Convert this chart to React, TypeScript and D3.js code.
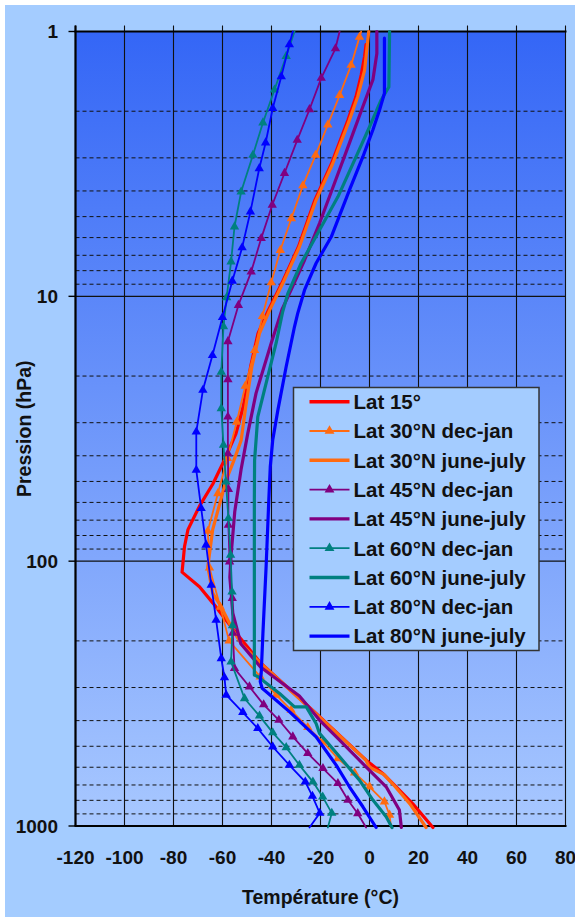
import React from "react";
import * as d3 from "d3";

// ---- axis ticks ----
const tempTicks = [-120, -100, -80, -60, -40, -20, 0, 20, 40, 60, 80];
const pressureMajor = [1, 10, 100, 1000];
const pressureLabels = ["1", "10", "100", "1000"];

// ---- series data: [temperature °C, pressure hPa] ----
const lat15: [number, number][] = [
  [-1.4, 1.12], [-2, 1.24], [-3.4, 1.46], [-5.5, 1.76], [-8.8, 2.16], [-15.5, 3.15], [-22.3, 4.33],
  [-29, 6.5], [-35.8, 8.93], [-41.3, 11.3], [-45.5, 13.8], [-48.5, 18.4], [-51.5, 26], [-54.5, 33],
  [-59.2, 41.5], [-63.9, 51], [-69.4, 62], [-74.1, 76], [-75.5, 88], [-76.5, 110], [-69.4, 125],
  [-63.9, 144], [-58.5, 167], [-54.4, 187], [-49, 215], [-44.9, 240], [-21.8, 376], [-1.4, 564],
  [5.4, 633], [10.9, 711], [17.7, 825], [25.9, 1013],
];
const lat30Dec: [number, number][] = [
  [-3.4, 1], [-4.1, 1.05], [-7.5, 1.34], [-12.2, 1.74], [-17, 2.25], [-22, 2.93], [-27.2, 3.82],
  [-31.9, 5.08], [-36.4, 6.7], [-40.1, 8.87], [-43.7, 11.9], [-46.9, 16], [-50.7, 21.8], [-54.2, 29.8],
  [-58, 40.9], [-61.9, 55.5], [-66, 77], [-65.3, 106], [-60.9, 149], [-57.3, 200], [-44.6, 273],
  [-38.1, 320], [-32, 365], [-25.2, 424], [-19, 481], [-12.9, 556], [-6.1, 630], [0, 711],
  [6.1, 810], [8.2, 909], [8.8, 1013],
];
const lat30Jun: [number, number][] = [
  [-0.3, 1], [-0.7, 1.08], [-2, 1.4], [-4.8, 1.76], [-8.2, 2.16], [-15, 3.15], [-21.8, 4.33],
  [-28.6, 6.5], [-35.4, 8.93], [-40.8, 11.3], [-44.9, 13.8], [-48, 18.4], [-50.5, 26], [-52.4, 35],
  [-55.5, 42], [-58.5, 49.4], [-64, 76], [-66, 105], [-64, 132], [-60.5, 149], [-55.8, 182],
  [-52, 207], [-45, 240], [-22, 376], [-1.5, 564], [0, 600], [6, 640], [10.5, 711], [16.5, 825],
  [23.1, 1013],
];
const lat45Dec: [number, number][] = [
  [-12.2, 1], [-13.9, 1.16], [-19.7, 1.5], [-24.5, 1.97], [-29.5, 2.57], [-34.7, 3.43], [-39.7, 4.52],
  [-44.2, 6.04], [-48.3, 8.08], [-53.5, 10.8], [-57.8, 14.8], [-57.8, 20.6], [-57.8, 28.5],
  [-57.8, 39.2], [-57.6, 53.5], [-57.6, 73.1], [-57.1, 100.5], [-56, 138], [-55.8, 187],
  [-55.1, 254], [-49, 298], [-43.2, 348], [-37, 398], [-31.3, 460], [-25.2, 532], [-19, 606],
  [-12.9, 690], [-8.8, 798], [-4.8, 897], [-1.4, 1013],
];
const lat45Jun: [number, number][] = [
  [3, 1], [3, 1.21], [1.4, 1.52], [-2.7, 1.92], [-8.2, 2.64], [-14.3, 3.74], [-20.4, 5.3],
  [-26.5, 7.29], [-32, 9.46], [-35.7, 11.2], [-40.1, 15], [-46.3, 23.2], [-49.7, 33], [-52.4, 45],
  [-55, 65], [-56.5, 95], [-57, 115], [-55.8, 157], [-52.5, 205], [-44.5, 251], [-28.6, 323],
  [-20.4, 398], [-12.2, 474], [-1.4, 598], [6.8, 711], [12.2, 870], [13, 1013],
];
const lat60Dec: [number, number][] = [
  [-30.6, 1], [-34, 1.24], [-38.8, 1.66], [-43.5, 2.21], [-47.6, 2.93], [-52.4, 4.03], [-55.1, 5.46],
  [-56.5, 7.4], [-58.3, 10.1], [-59.6, 13], [-60.5, 19.3], [-60.5, 26.5], [-59.6, 36.4],
  [-58.6, 50.1], [-57.6, 68.9], [-56.7, 94.8], [-56.1, 130.5], [-55.9, 175], [-56.5, 240],
  [-51, 330], [-44.9, 384], [-39.5, 444], [-34, 505], [-28.6, 589], [-23.1, 681], [-19.1, 776],
  [-15.4, 894], [-17, 1013],
];
const lat60Jun: [number, number][] = [
  [8.2, 1], [7.9, 1.62], [4.8, 1.81], [0, 2.29], [-6.1, 3.06], [-12.9, 4.21], [-20.4, 5.62],
  [-27.9, 7.5], [-33.3, 9.74], [-35.5, 11.5], [-38.1, 15], [-42.9, 22.6], [-45.6, 28.5],
  [-46.9, 41.5], [-47, 58.8], [-47, 269], [-45.5, 273], [-36.7, 316], [-30.6, 355], [-25.8, 355],
  [-21.8, 410], [-20.4, 447], [-12.2, 548], [-4.1, 671], [1.4, 798], [6.8, 923], [9.2, 1013],
];
const lat80Dec: [number, number][] = [
  [-31.3, 1], [-32.7, 1.12], [-36, 1.48], [-39.5, 1.95], [-42.4, 2.63], [-45, 3.29], [-48.6, 4.79],
  [-52, 6.55], [-56, 8.75], [-60, 12], [-64.1, 16.7], [-68, 22.6], [-70.7, 32.5], [-70.7, 45.3],
  [-68.7, 63.2], [-66.7, 86.9], [-64.6, 123], [-62.6, 167], [-60.5, 233], [-59.2, 275],
  [-58.5, 320], [-51.7, 372], [-45.6, 428], [-39.5, 502], [-32.7, 589], [-26.2, 681],
  [-23.3, 771], [-20.3, 894], [-24.5, 1013],
];
const lat80Jun: [number, number][] = [
  [6.1, 1.06], [6.1, 1.71], [4.1, 1.98], [1.4, 2.35], [-2.7, 2.97], [-8.2, 3.97], [-15.6, 5.96],
  [-21.8, 7.5], [-26.5, 9.46], [-29.3, 11.6], [-30.6, 13], [-34, 18.4], [-37.4, 26.9],
  [-39.5, 34.9], [-40.5, 44], [-41.1, 58.8], [-42.2, 105], [-43.5, 187], [-44.2, 265],
  [-44.6, 285], [-43.8, 302], [-32.7, 370], [-21.8, 461], [-13.6, 589], [-8.2, 711],
  [-2.7, 846], [2.7, 1013],
];

const seriesNames = [
  "Lat 15°",
  "Lat 30°N dec-jan",
  "Lat 30°N june-july",
  "Lat 45°N dec-jan",
  "Lat 45°N june-july",
  "Lat 60°N dec-jan",
  "Lat 60°N june-july",
  "Lat 80°N dec-jan",
  "Lat 80°N june-july",
];
const seriesData = [lat15, lat30Dec, lat30Jun, lat45Dec, lat45Jun, lat60Dec, lat60Jun, lat80Dec, lat80Jun];

// styles (kept apart from the data)
const seriesColors = ["#FF0000", "#FF6A10", "#FF6A10", "#800080", "#800080", "#008080", "#008080", "#0000FF", "#0000FF"];
const seriesMarkers = [false, true, false, true, false, true, false, true, false];

export default function App() {
  const W = 575;
  const H = 917;
  const x = d3.scaleLinear().domain([-120, 80]).range([75.5, 565.5]);
  const y = d3.scaleLog().domain([1, 1000]).range([31.5, 826]);
  const [x0, x1] = x.range();
  const [y0, y1] = y.range();

  const line = d3
    .line<[number, number]>()
    .x((d) => x(d[0]))
    .y((d) => y(d[1]));
  const triPlot = d3.symbol().type(d3.symbolTriangle).size(38)();
  const triLegend = d3.symbol().type(d3.symbolTriangle).size(42)();

  const minor: number[] = [];
  for (const dec of [1, 10, 100]) for (let k = 2; k <= 9; k++) minor.push(dec * k);

  const font = "'Liberation Sans', Arial, Helvetica, sans-serif";

  // legend geometry
  const lgX = 293.5, lgY = 387.5, lgW = 245.5, lgH = 263;
  const lgRow0 = 401.7, lgStep = 29.3;

  return (
    <svg
      width={W}
      height={H}
      viewBox={`0 0 ${W} ${H}`}
      style={{ position: "absolute", left: 0, top: 0, display: "block" }}
      fontFamily={font}
    >
      <defs>
        <linearGradient id="plotBg" x1="0" y1="0" x2="0" y2="1">
          <stop offset="0" stopColor="#3466F6" />
          <stop offset="1" stopColor="#A8C8FF" />
        </linearGradient>
      </defs>
      <rect x={0} y={0} width={W} height={H} fill="#FFFFFF" />
      <rect x={5} y={5} width={W - 5} height={H - 5} fill="#A4CCFF" />

      {/* plot area */}
      <rect x={x0} y={y0} width={x1 - x0} height={y1 - y0} fill="url(#plotBg)" />

      {/* minor dashed gridlines */}
      {minor.map((p) => (
        <line key={"mn" + p} x1={x0} x2={x1} y1={y(p)} y2={y(p)} stroke="#111" strokeWidth={1} strokeDasharray="4 3" />
      ))}
      {/* major horizontal gridlines */}
      {[10, 100].map((p) => (
        <line key={"mj" + p} x1={x0} x2={x1} y1={y(p)} y2={y(p)} stroke="#111" strokeWidth={1.1} />
      ))}
      {/* vertical gridlines + top ticks */}
      {tempTicks.map((t) => (
        <line key={"v" + t} x1={x(t)} x2={x(t)} y1={y0 - 6} y2={y1} stroke="#111" strokeWidth={1.1} />
      ))}
      {/* borders */}
      <line x1={x0 - 1} x2={x1 + 1} y1={y0} y2={y0} stroke="#000" strokeWidth={2.2} />
      <line x1={x0 - 1} x2={x1 + 1} y1={y1} y2={y1} stroke="#000" strokeWidth={2.2} />
      <line x1={x0} x2={x0} y1={y0 - 6} y2={y1} stroke="#000" strokeWidth={2.2} />
      {/* y axis ticks */}
      {pressureMajor.map((p) => (
        <line key={"yt" + p} x1={x0 - 7} x2={x0} y1={y(p)} y2={y(p)} stroke="#000" strokeWidth={1.4} />
      ))}

      {/* series */}
      {seriesData.map((data, i) => (
        <g key={"s" + i}>
          <path
            d={line(data) || ""}
            fill="none"
            stroke={seriesColors[i]}
            strokeWidth={seriesMarkers[i] ? 1.8 : 3.2}
            strokeLinejoin="round"
            strokeLinecap="round"
          />
          {seriesMarkers[i] &&
            data.slice(1, data.length - 1).map((d, j) => (
              <path
                key={j}
                d={triPlot || ""}
                transform={`translate(${x(d[0])},${y(d[1])})`}
                fill={seriesColors[i]}
              />
            ))}
        </g>
      ))}

      {/* y tick labels */}
      {pressureMajor.map((p, i) => (
        <text key={"yl" + p} x={58} y={y(p)} dy="0.36em" textAnchor="end" fontSize={19} fontWeight="bold" fill="#111">
          {pressureLabels[i]}
        </text>
      ))}
      {/* x tick labels */}
      {tempTicks.map((t) => (
        <text key={"xl" + t} x={x(t)} y={864} textAnchor="middle" fontSize={19} fontWeight="bold" fill="#111">
          {t}
        </text>
      ))}
      {/* axis titles */}
      <text x={(x0 + x1) / 2} y={904} textAnchor="middle" fontSize={19.5} fontWeight="bold" fill="#111">
        Température (°C)
      </text>
      <text
        transform={`translate(31,${(y0 + y1) / 2}) rotate(-90)`}
        textAnchor="middle"
        fontSize={19.5}
        fontWeight="bold"
        fill="#111"
      >
        Pression (hPa)
      </text>

      {/* legend */}
      <rect x={lgX} y={lgY} width={lgW} height={lgH} fill="#A4CCFF" stroke="#333" strokeWidth={1.5} />
      {seriesNames.map((name, i) => {
        const cy = lgRow0 + i * lgStep;
        return (
          <g key={"lg" + i}>
            <line
              x1={309.5}
              x2={349.5}
              y1={cy}
              y2={cy}
              stroke={seriesColors[i]}
              strokeWidth={seriesMarkers[i] ? 1.8 : 3.4}
            />
            {seriesMarkers[i] && (
              <path d={triLegend || ""} transform={`translate(329.5,${cy})`} fill={seriesColors[i]} />
            )}
            <text x={353.5} y={cy} dy="0.36em" fontSize={20.5} fontWeight="bold" fill="#111">
              {name}
            </text>
          </g>
        );
      })}
    </svg>
  );
}
